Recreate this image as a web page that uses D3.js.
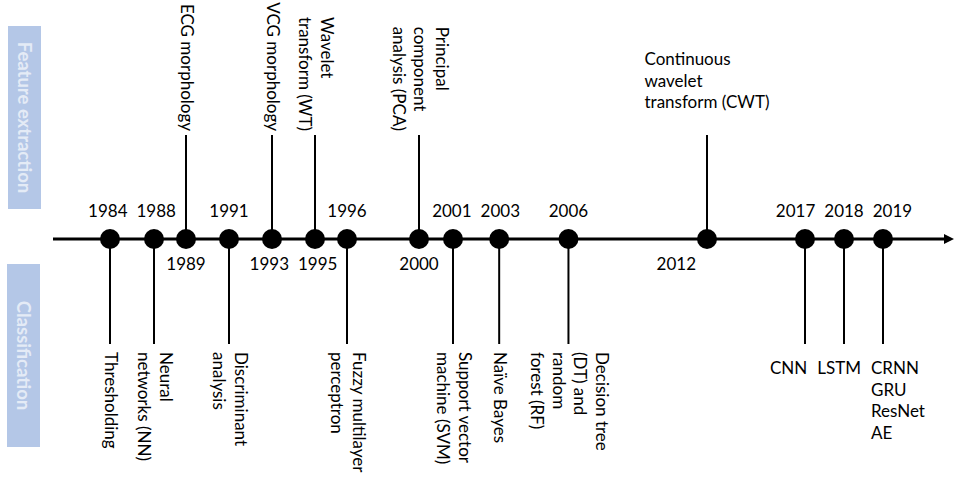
<!DOCTYPE html>
<html>
<head>
<meta charset="utf-8">
<script src="https://cdn.jsdelivr.net/npm/d3@7"></script>
<style>
  body { margin: 0; background: #fff; }
  text { font-family: Lato, "Liberation Sans", sans-serif; fill: #000; }
</style>
</head>
<body>
<div id="chart"></div>
<script>
(function () {
  // one entry per milestone on the timeline
  var years = [1984, 1988, 1989, 1991, 1993, 1995, 1996, 2000, 2001, 2003, 2006, 2012, 2017, 2018, 2019];
  var methods = [
    ['Thresholding'],
    ['Neural', 'networks (NN)'],
    ['ECG morphology'],
    ['Discriminant', 'analysis'],
    ['VCG morphology'],
    ['Wavelet', 'transform (WT)'],
    ['Fuzzy multilayer', 'perceptron'],
    ['Principal', 'component', 'analysis (PCA)'],
    ['Support vector', 'machine (SVM)'],
    ['Naïve Bayes'],
    ['Decision tree', '(DT) and', 'random', 'forest (RF)'],
    ['Continuous', 'wavelet', 'transform (CWT)'],
    ['CNN'],
    ['LSTM'],
    ['CRNN', 'GRU', 'ResNet', 'AE']
  ];
  // fe = feature extraction (above the line), cls = classification (below)
  var groups = ['cls', 'cls', 'fe', 'cls', 'fe', 'fe', 'cls', 'fe', 'cls', 'cls', 'cls', 'fe', 'cls', 'cls', 'cls'];
  var groupTitles = ['Feature extraction', 'Classification'];

  var width = 957, height = 482;
  var axisY = 239;
  var lh = 21.5; // line height of the labels
  var fontSize = '17px';

  var svg = d3.select('#chart').append('svg')
        .attr('width', width)
        .attr('height', height);

  // the time axis is not linear in the figure: the ends are squeezed
  // and years next to each other get a bit more room
  var x = d3.scaleLinear()
        .domain([1984, 1988, 1989, 1995, 1996, 2000, 2001, 2012, 2017, 2019])
        .range([110, 154, 186, 315, 347, 419, 453, 707, 805, 883]);

  var events = years.map(function (y, i) {
    return { year: y, lines: methods[i], group: groups[i] };
  });

  // side boxes
  var boxes = [
    { title: groupTitles[0], x: 8, y: 26, h: 183 },
    { title: groupTitles[1], x: 7, y: 264, h: 183 }
  ];
  var box = svg.selectAll('.box').data(boxes).enter()
        .append('g').attr('class', 'box');
  box.append('rect')
    .attr('x', function (d) { return d.x; })
    .attr('y', function (d) { return d.y; })
    .attr('width', 33)
    .attr('height', function (d) { return d.h; })
    .style('fill', '#b4c7e7');
  box.append('text')
    .attr('transform', function (d) {
      return 'translate(' + (d.x + 16.5) + ',' + (d.y + d.h / 2) + ') rotate(90)';
    })
    .attr('text-anchor', 'middle')
    .attr('dy', '0.35em')
    .style('font-size', '18.5px')
    .style('font-weight', 'bold')
    .style('fill', '#e4ebf6')
    .text(function (d) { return d.title; });

  // main line with arrow
  svg.append('line')
    .attr('x1', 53).attr('x2', 946)
    .attr('y1', axisY).attr('y2', axisY)
    .style('stroke', '#000')
    .style('stroke-width', 3);
  svg.append('path')
    .attr('d', 'M944,234L954,239L944,244Z')
    .style('fill', '#000');

  // stems
  svg.selectAll('.stem').data(events).enter()
    .append('line')
    .attr('class', 'stem')
    .attr('x1', function (d) { return x(d.year); })
    .attr('x2', function (d) { return x(d.year); })
    .attr('y1', axisY)
    .attr('y2', function (d) { return d.group == 'fe' ? 135 : 344; })
    .style('stroke', '#000')
    .style('stroke-width', 2);

  // dots
  svg.selectAll('.dot').data(events).enter()
    .append('circle')
    .attr('class', 'dot')
    .attr('cx', function (d) { return x(d.year); })
    .attr('cy', axisY)
    .attr('r', 10)
    .style('fill', '#000');

  // year labels, on the other side of the stem
  var yearText = svg.selectAll('.year').data(events).enter()
    .append('text')
    .attr('class', 'year')
    .attr('x', function (d) { return x(d.year); })
    .attr('y', function (d) { return d.group == 'fe' ? 270 : 217; })
    .attr('text-anchor', 'middle')
    .style('font-size', fontSize)
    .text(function (d) { return d.year; });

  // push apart year labels that would touch
  yearText.each(function (d) {
    d.lx = x(d.year);
    d.lw = this.getComputedTextLength();
  });
  ['fe', 'cls'].forEach(function (side) {
    var row = events.filter(function (d) { return d.group == side; });
    for (var k = 0; k < 20; k++) {
      for (var i = 1; i < row.length; i++) {
        var a = row[i - 1], b = row[i];
        var need = (a.lw + b.lw) / 2 + 9;
        var gap = b.lx - a.lx;
        if (gap < need) {
          a.lx -= (need - gap) / 2;
          b.lx += (need - gap) / 2;
        }
      }
    }
  });
  yearText
    .attr('x', function (d) {
      // 2012 sits left of its stem
      return d.year == 2012 ? x(d.year) - 11 : d.lx;
    })
    .attr('text-anchor', function (d) { return d.year == 2012 ? 'end' : 'middle'; });

  // method labels
  var flat = []; // horizontal labels under the line, fixed up afterwards
  events.forEach(function (d) {
    var cx = x(d.year);
    var n = d.lines.length;
    var horizontal = d.year >= 2012;

    if (horizontal) {
      var top = d.group == 'fe' ? 65 : 374;
      var t = svg.append('text')
            .attr('class', 'method')
            .style('font-size', fontSize);
      t.selectAll('tspan').data(d.lines).enter()
        .append('tspan')
        .attr('x', 0)
        .attr('y', function (s, i) { return top + i * lh; })
        .text(function (s) { return s; });
      var w = t.node().getBBox().width;
      var left = (d.group == 'fe' || n == 1) ? cx - w / 2 : cx - 12;
      t.selectAll('tspan').attr('x', left);
      if (d.group == 'cls') flat.push({ sel: t, left: left, w: w });
      return;
    }

    var gx = cx + (n - 1) * lh / 2 - 5;
    var g = svg.append('g').attr('class', 'method');
    var t2 = g.append('text').style('font-size', fontSize);
    t2.selectAll('tspan').data(d.lines).enter()
      .append('tspan')
      .attr('x', 0)
      .attr('y', function (s, i) { return i * lh; })
      .text(function (s) { return s; });
    var len = d3.max(t2.selectAll('tspan').nodes(), function (nd) {
      return nd.getComputedTextLength();
    });
    // feature extraction labels end just above their stem
    var gy = d.group == 'fe' ? 131 - len : 352;
    g.attr('transform', 'translate(' + gx + ',' + gy + ') rotate(90)');
  });

  // CNN / LSTM / CRNN sit side by side: keep a gap between them
  for (var i = flat.length - 2; i >= 0; i--) {
    var maxRight = flat[i + 1].left - 10;
    if (flat[i].left + flat[i].w > maxRight) {
      flat[i].left = maxRight - flat[i].w;
      flat[i].sel.selectAll('tspan').attr('x', flat[i].left);
    }
  }
})();
</script>
</body>
</html>
